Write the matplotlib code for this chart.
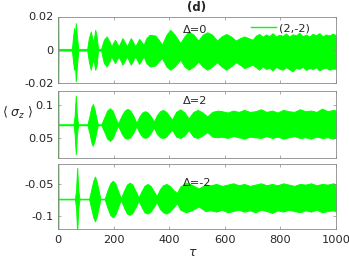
import matplotlib
matplotlib.use("Agg")
import matplotlib.pyplot as plt
from matplotlib.lines import Line2D

plt.rcParams['font.family'] = 'DejaVu Sans'
plt.rcParams['axes.unicode_minus'] = False

GREEN = '#00ff00'
GRAY = '#8a8a8a'

# envelope of the fast oscillation (tau, upper, lower)
# Delta = 0
d0_t = [0, 2, 50, 55, 58, 61, 64, 68, 73, 105, 111, 118, 127, 134, 139, 144,
        155, 165, 175, 185, 192, 205, 218, 232, 248, 262, 278, 292, 308,
        318, 330, 350, 362, 374, 390, 404, 420, 440, 455, 470, 488, 505,
        520, 537, 555, 572, 588, 605, 622, 640, 655, 670, 685, 700,
        712, 724, 736, 748, 760, 772, 784, 796, 808, 820, 832, 844, 856,
        868, 880, 892, 904, 916, 928, 940, 952, 964, 976, 988, 1000]
d0_hi = [0.05, 0.0005, 0.0005, 0.009, 0.013, 0.006, 0.016, 0.008, 0.0005, 0.0005,
         0.007, 0.011, 0.004, 0.012, 0.008, 0.0005,
         0.0005, 0.006, 0.008, 0.005, 0.002, 0.006, 0.002, 0.007, 0.002, 0.007,
         0.002, 0.0065, 0.003,
         0.007, 0.009, 0.0085, 0.006, 0.003, 0.009, 0.0120, 0.009, 0.004, 0.008,
         0.0110, 0.009, 0.0055,
         0.009, 0.0105, 0.009, 0.0055, 0.008, 0.0095, 0.008, 0.0055, 0.007, 0.008,
         0.007, 0.006,
         0.0085, 0.0095, 0.0078, 0.0092, 0.0082, 0.0100, 0.0080, 0.0090, 0.0084,
         0.0098, 0.0079, 0.0093, 0.0086, 0.0102, 0.0082, 0.0091, 0.0079, 0.0096,
         0.0087, 0.0100, 0.0081, 0.0092, 0.0085, 0.0097, 0.0087]
d0_lo = [-0.05, -0.0005, -0.0005, -0.008, -0.012, -0.008, -0.019, -0.010, -0.0005,
         -0.0005, -0.007, -0.012, -0.005, -0.012, -0.009, -0.0005,
         -0.0005, -0.008, -0.010, -0.007, -0.004, -0.008, -0.004, -0.009, -0.004,
         -0.009, -0.004, -0.0085, -0.004,
         -0.008, -0.010, -0.0095, -0.007, -0.005, -0.010, -0.012, -0.010, -0.006,
         -0.010, -0.012, -0.010, -0.007,
         -0.010, -0.012, -0.010, -0.0075, -0.010, -0.012, -0.010, -0.0075,
         -0.009, -0.011, -0.010, -0.009,
         -0.0105, -0.0120, -0.0100, -0.0115, -0.0107, -0.0125, -0.0103, -0.0113,
         -0.0120, -0.0105, -0.0117, -0.0130, -0.0107, -0.0115, -0.0103, -0.0121,
         -0.0110, -0.0116, -0.0105, -0.0125, -0.0112, -0.0107, -0.0120, -0.0113,
         -0.0115]

# Delta = 2
d2_t = [0, 2, 56, 60, 64, 68, 72, 106, 113, 120, 125, 131, 137, 143,
        156, 167, 177, 187, 197, 207, 216,
        230, 240, 250, 260, 271, 282, 293, 303, 313, 323, 334, 345,
        356, 367, 378, 389, 400, 410, 425, 440, 455, 470, 487, 503, 520, 537,
        555, 575, 590, 610, 630, 650, 670, 690, 710, 730, 750, 770, 790, 810,
        830, 850, 870, 890, 910, 930, 950, 970, 990, 1000]
d2_hi = [0.2, 0.071, 0.071, 0.085, 0.115, 0.085, 0.071, 0.071, 0.083, 0.097,
         0.102, 0.095, 0.082, 0.071,
         0.071, 0.082, 0.092, 0.0955, 0.091, 0.080, 0.072,
         0.085, 0.092, 0.0945, 0.092, 0.084, 0.073, 0.083, 0.089, 0.091, 0.089,
         0.083, 0.075,
         0.085, 0.091, 0.093, 0.090, 0.084, 0.078, 0.090, 0.094, 0.089, 0.080,
         0.090, 0.093, 0.089, 0.083,
         0.090, 0.092, 0.091, 0.089, 0.092, 0.090, 0.093, 0.090, 0.091, 0.094,
         0.090, 0.092, 0.089, 0.093, 0.091, 0.090, 0.094, 0.091, 0.092, 0.090,
         0.095, 0.091, 0.093, 0.092]
d2_lo = [-0.1, 0.0695, 0.0695, 0.055, 0.025, 0.055, 0.0695, 0.0695, 0.058, 0.043,
         0.038, 0.045, 0.058, 0.0695,
         0.0695, 0.059, 0.049, 0.0455, 0.050, 0.061, 0.069,
         0.056, 0.050, 0.049, 0.051, 0.058, 0.068, 0.058, 0.052, 0.050, 0.052,
         0.058, 0.066,
         0.056, 0.051, 0.050, 0.052, 0.058, 0.063, 0.052, 0.050, 0.054, 0.062,
         0.052, 0.050, 0.054, 0.059,
         0.052, 0.051, 0.052, 0.050, 0.053, 0.051, 0.049, 0.052, 0.051, 0.050,
         0.053, 0.050, 0.052, 0.049, 0.051, 0.053, 0.050, 0.051, 0.049, 0.052,
         0.050, 0.051, 0.049, 0.051]

# Delta = -2
dm2_t = [0, 2, 61, 65, 69, 73, 77, 112, 119, 127, 133, 139, 146, 152,
         168, 178, 188, 197, 207, 217, 226,
         238, 248, 258, 268, 279, 290, 301, 311, 322, 333, 344, 355,
         367, 378, 390, 402, 414, 428, 440, 460, 480, 506, 530,
         550, 570, 590, 610, 630, 650, 670, 690, 710, 730, 750, 770, 790, 810,
         830, 850, 870, 890, 910, 930, 950, 970, 990, 1000]
dm2_hi = [0.1, -0.073, -0.073, -0.060, -0.025, -0.060, -0.073, -0.073, -0.060,
          -0.045, -0.0386, -0.046, -0.060, -0.073,
          -0.073, -0.060, -0.049, -0.045, -0.050, -0.062, -0.072,
          -0.060, -0.051, -0.048, -0.051, -0.061, -0.071, -0.061, -0.053, -0.050,
          -0.053, -0.061, -0.069,
          -0.058, -0.052, -0.050, -0.053, -0.059, -0.064, -0.054, -0.048, -0.051,
          -0.057, -0.051,
          -0.052, -0.050, -0.053, -0.051, -0.049, -0.052, -0.050, -0.053, -0.051,
          -0.049, -0.052, -0.050, -0.052, -0.049, -0.051, -0.053, -0.050, -0.051,
          -0.049, -0.052, -0.050, -0.051, -0.049, -0.051]
dm2_lo = [-0.3, -0.074, -0.074, -0.087, -0.125, -0.087, -0.074, -0.074, -0.087,
          -0.102, -0.108, -0.101, -0.087, -0.074,
          -0.074, -0.087, -0.098, -0.102, -0.097, -0.085, -0.075,
          -0.087, -0.096, -0.098, -0.095, -0.086, -0.076, -0.086, -0.094, -0.096,
          -0.093, -0.086, -0.078,
          -0.089, -0.094, -0.096, -0.093, -0.087, -0.080, -0.090, -0.094, -0.091,
          -0.085, -0.092,
          -0.091, -0.093, -0.090, -0.094, -0.092, -0.090, -0.093, -0.091, -0.094,
          -0.090, -0.092, -0.095, -0.091, -0.093, -0.090, -0.092, -0.094, -0.091,
          -0.093, -0.090, -0.094, -0.092, -0.091, -0.093]

panels = [
    (d0_t, d0_hi, d0_lo, 'Δ=0', (-0.02, 0.02), [-0.02, 0, 0.02], ['-0.02', '0', '0.02'], 0.79),
    (d2_t, d2_hi, d2_lo, 'Δ=2', (0.02, 0.122), [0.05, 0.1], ['0.05', '0.1'], 0.85),
    (dm2_t, dm2_hi, dm2_lo, 'Δ=-2', (-0.12, -0.019), [-0.1, -0.05], ['-0.1', '-0.05'], 0.71),
]

W, H = 349, 262
fig = plt.figure(figsize=(W / 100, H / 100), dpi=100)
rects = [(16.5, 83), (91, 157.5), (164, 229)]

for i, (t, hi, lo, lab, ylim, yt, ytl, ly) in enumerate(panels):
    top, bot = rects[i]
    ax = fig.add_axes([58 / W, 1 - bot / H, 278 / W, (bot - top) / H])
    ax.fill_between(t, lo, hi, color=GREEN, lw=0.7, edgecolor=GREEN)
    ax.set_xlim(0, 1000)
    ax.set_ylim(*ylim)
    ax.set_yticks(yt)
    ax.set_yticklabels(ytl)
    ax.set_xticks(range(0, 1001, 200))
    ax.tick_params(direction='in', top=True, right=True, length=2.5, width=0.5,
                   color=GRAY, labelsize=8.2, labelcolor='#262626', pad=3)
    ax.tick_params(axis='x', pad=4)
    for s in ax.spines.values():
        s.set_color(GRAY)
        s.set_linewidth(0.6)
    if i < 2:
        ax.tick_params(labelbottom=False)
    ax.text(0.45, ly, lab, transform=ax.transAxes, fontsize=8.2,
            ha='left', va='center', color='#262626')
    if i == 0:
        h = Line2D([], [], color=GREEN, lw=1)
        ax.legend([h], ['(2,-2)'], loc='center left', bbox_to_anchor=(0.694, 0.82),
                  frameon=False, fontsize=8.2, handlelength=2.2, handletextpad=0.3,
                  borderpad=0, borderaxespad=0, labelcolor='#262626')

fig.text(196.5 / W, 1 - 8 / H, '(d)', ha='center', va='center', fontsize=8.5,
         fontweight='bold', color='#262626')
fig.text(2 / W, 1 - 113 / H, r'$\langle\ \sigma_z\ \rangle$', ha='left', va='center',
         fontsize=9, color='#262626')
fig.text(193 / W, 1 - 253 / H, r'$\tau$', ha='center', va='center', fontsize=9,
         color='#262626')

fig.savefig('out.png', dpi=100)
